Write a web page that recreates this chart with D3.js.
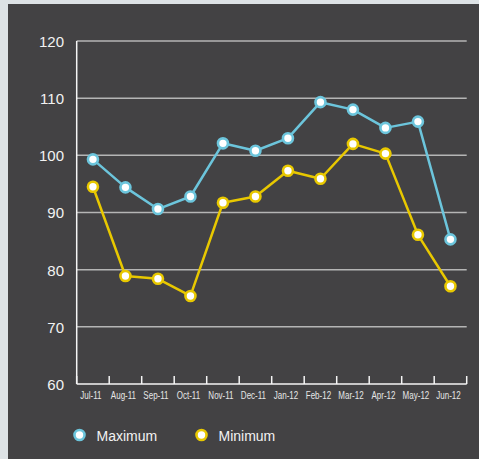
<!DOCTYPE html>
<html><head><meta charset="utf-8">
<script src="https://cdn.jsdelivr.net/npm/d3@7"></script>
<style>
html,body{margin:0;padding:0;background:#dde2e5;}
svg{display:block;}
</style></head>
<body>
<svg id="c" width="479" height="459"></svg>
<script>
const categories = ["Jul-11","Aug-11","Sep-11","Oct-11","Nov-11","Dec-11","Jan-12","Feb-12","Mar-12","Apr-12","May-12","Jun-12"];
const maximum = [99.3, 94.4, 90.6, 92.8, 102.1, 100.8, 103.0, 109.3, 108.0, 104.8, 105.9, 85.3];
const minimum = [94.5, 78.9, 78.4, 75.4, 91.7, 92.8, 97.3, 95.9, 102.0, 100.3, 86.1, 77.1];
const yTicks = [60, 70, 80, 90, 100, 110, 120];
const seriesNames = ["Maximum", "Minimum"];
const colors = ["#6cc5dc", "#e8c800"];

const svg = d3.select("#c");
svg.append("rect").attr("x", 8).attr("y", 4).attr("width", 479 - 8).attr("height", 459 - 4).attr("fill", "#434244");

const x = d3.scaleBand().domain(categories).range([76.7, 466.7]).padding(0);
const y = d3.scaleLinear().domain([60, 120]).range([384, 41]);
const cx = d => x(d) + x.bandwidth() / 2;

// grid lines
svg.append("g").selectAll("line").data(yTicks.filter(t => t > 60)).join("line")
  .attr("x1", 76.7).attr("x2", 466.7)
  .attr("y1", d => y(d)).attr("y2", d => y(d))
  .attr("stroke", "#b5b5b5").attr("stroke-width", 1.5);

// y axis labels
const yAxis = d3.axisLeft(y).tickValues(yTicks).tickSize(0).tickPadding(0);
const gy = svg.append("g").attr("transform", "translate(64,0)").call(yAxis);
gy.select(".domain").remove();
gy.selectAll("text").attr("font-family", "Liberation Sans, Arial, sans-serif")
  .attr("font-size", 15).attr("fill", "#f2f2f2").attr("dy", "0.36em");

// y axis line
svg.append("line").attr("x1", 76.7).attr("x2", 76.7).attr("y1", y(120)).attr("y2", y(60))
  .attr("stroke", "#f5f5f5").attr("stroke-width", 1.5);

// x axis line
svg.append("line").attr("x1", 76.7).attr("x2", 466.7).attr("y1", y(60)).attr("y2", y(60))
  .attr("stroke", "#f5f5f5").attr("stroke-width", 1.5);

// x ticks at band edges
const edges = categories.map(c => x(c)).concat([x.range()[1]]);
svg.append("g").selectAll("line").data(edges).join("line")
  .attr("x1", d => d).attr("x2", d => d)
  .attr("y1", y(60)).attr("y2", y(60) - 8)
  .attr("stroke", "#f5f5f5").attr("stroke-width", 1.5);

// x labels (condensed look)
const xAxis = d3.axisBottom(x).tickSize(0).tickPadding(0);
const gx = svg.append("g").attr("transform", `translate(0,${y(60)})`).call(xAxis);
gx.select(".domain").remove();
gx.selectAll("text").attr("font-family", "Liberation Sans, Arial, sans-serif")
  .attr("font-size", 10).attr("fill", "#e6e6e6").attr("dy", "0").attr("y", 15).attr("dx", -2)
  .each(function() {
    const w = this.getComputedTextLength();
    d3.select(this).attr("textLength", w * 0.8).attr("lengthAdjust", "spacingAndGlyphs");
  });

// series
const data = [maximum, minimum];
const line = d3.line().x((d, i) => cx(categories[i])).y(d => y(d));
data.forEach((vals, si) => {
  svg.append("path").datum(vals).attr("d", line)
    .attr("fill", "none").attr("stroke", colors[si]).attr("stroke-width", 2.5)
    .attr("stroke-linejoin", "round");
});
data.forEach((vals, si) => {
  svg.append("g").selectAll("circle").data(vals).join("circle")
    .attr("cx", (d, i) => cx(categories[i])).attr("cy", d => y(d))
    .attr("r", 5).attr("fill", "#ffffff").attr("stroke", colors[si]).attr("stroke-width", 2.6);
});

// legend
const legendX = [79.5, 201.5];
seriesNames.forEach((n, i) => {
  svg.append("circle").attr("cx", legendX[i]).attr("cy", 435).attr("r", 5)
    .attr("fill", "#fff").attr("stroke", colors[i]).attr("stroke-width", 2.6);
  svg.append("text").attr("x", legendX[i] + 17).attr("y", 441)
    .attr("font-family", "Liberation Sans, Arial, sans-serif").attr("font-size", 14)
    .attr("fill", "#f2f2f2").text(n);
});
</script>
</body></html>
